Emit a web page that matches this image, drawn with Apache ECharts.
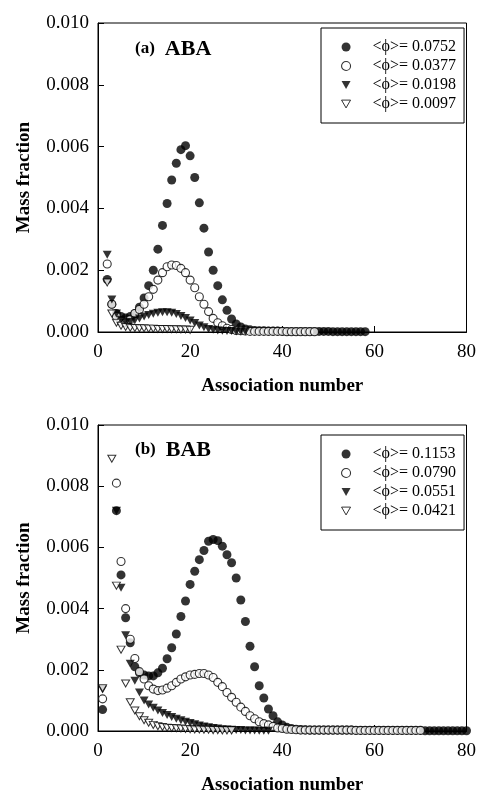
<!DOCTYPE html>
<html>
<head>
<meta charset="utf-8">
<script src="https://cdn.jsdelivr.net/npm/echarts@6/dist/echarts.min.js"></script>
<style>html,body{margin:0;padding:0;background:#fff;}#c{width:479px;height:796px;}</style>
</head>
<body>
<div id="c"></div>
<script>
// ---- Data (association number starts at given value, consecutive integers; null = not shown) ----
const xTicks = [0, 20, 40, 60, 80];
const yTicks = [0, 0.002, 0.004, 0.006, 0.008, 0.010];

const abaNames = ['<ϕ>= 0.0752', '<ϕ>= 0.0377', '<ϕ>= 0.0198', '<ϕ>= 0.0097'];
const babNames = ['<ϕ>= 0.1153', '<ϕ>= 0.0790', '<ϕ>= 0.0551', '<ϕ>= 0.0421'];

const abaStart = 2;
const aba1 = [0.0017,0.0009,0.0006,0.0005,0.00045,0.0005,0.0006,0.0008,0.0011,0.0015,
  0.0020,0.00268,0.00345,0.00416,0.00492,0.00546,0.0059,0.00603,0.0057,0.0050,
  0.00418,0.00336,0.00259,0.0020,0.0015,0.00104,0.0007,0.00042,0.00026,0.00016,
  0.0001,0.00007,0.00005,0.00004,0.00004,0.00003,0.00003,0.00003,0.00002,
  0.00002,0.00002,0.00002,0.00002,0.00002,0.00002,0.00002,0.00002,0.00002,0.00002,
  0.00001,0.00001,0.00001,0.00001,0.00001,0.00001,0.00001,0.00001];
const aba2 = [0.0022,0.0009,0.0005,0.00035,0.0003,0.0004,0.0006,0.00073,0.0009,0.00114,
  0.00138,0.00168,0.00192,0.00211,0.00217,0.00215,0.00206,0.00192,0.00168,0.00143,
  0.00114,0.0009,0.00066,0.00044,0.0003,0.0002,0.00012,0.00008,0.00005,0.00004,0.00003,
  0.00002,0.00002,0.00002,0.00002,0.00002,0.00002,0.00002,0.00002,
  0.00001,0.00001,0.00001,0.00001,0.00001,0.00001,0.00001];
const aba3 = [0.0025,0.00105,0.0006,0.0004,0.0003,0.00032,0.00038,0.00044,0.0005,0.00055,
  0.00059,0.00062,0.00064,0.00064,0.00062,0.00058,0.00052,0.00045,0.00037,0.00029,
  0.00021,0.00015,0.0001,0.00007,0.00005,0.00004,0.00003,0.00003,0.00002,0.00002,0.00002];
const aba4 = [0.0016,0.0006,0.0003,0.0002,0.00016,0.00014,0.00013,0.00012,0.00012,0.00011,
  0.00011,0.0001,0.0001,0.0001,0.00009,0.00009,0.00008,0.00008,0.00007];

const babStart = 1;
const bab1 = [0.0007,null,null,0.0072,0.0051,0.0037,0.00288,0.0021,0.0019,0.00183,
  0.0018,0.0018,0.0019,0.00205,0.00236,0.00272,0.00317,0.00374,0.00425,0.00479,
  0.00522,0.0056,0.0059,0.0062,0.00626,0.00622,0.00604,0.00576,0.0055,0.005,
  0.00428,0.00358,0.00277,0.0021,0.00148,0.00108,0.00072,0.0005,0.0003,0.0002,
  0.00012,0.00008,0.00006,0.00005,0.00004,
  0.00003,0.00003,0.00003,0.00003,0.00003,0.00003,0.00003,0.00003,0.00003,0.00003,
  0.00002,0.00002,0.00002,0.00002,0.00002,0.00002,0.00002,0.00002,0.00002,0.00002,
  0.00002,0.00002,0.00002,0.00002,0.00002,
  0.00001,0.00001,0.00001,0.00001,0.00001,0.00001,0.00001,0.00001,0.00001,0.00001];
const bab2 = [0.00105,null,null,0.0081,0.00554,0.004,0.003,0.00237,0.00194,0.0017,
  0.00148,0.00137,0.00132,0.00134,0.0014,0.00148,0.00159,0.0017,0.00177,0.00183,
  0.00185,0.00188,0.00188,0.00183,0.00175,0.00159,0.00145,0.00126,0.0011,0.00094,
  0.00078,0.00064,0.0005,0.0004,0.0003,0.00024,0.0002,0.00015,0.0001,0.00008,
  0.00006,0.00005,0.00004,
  0.00003,0.00003,0.00003,0.00003,0.00003,0.00003,0.00003,0.00003,0.00003,0.00003,0.00003,0.00003,
  0.00002,0.00002,0.00002,0.00002,0.00002,0.00002,0.00002,0.00002,0.00002,0.00002,
  0.00002,0.00002,0.00002,0.00002,0.00002];
const bab3 = [0.00136,null,null,0.0072,0.00468,0.00313,0.0022,0.00164,0.00126,0.001,
  0.00087,0.00076,0.00067,0.00059,0.00052,0.00046,0.0004,0.00035,0.0003,0.00026,
  0.00022,0.00018,0.00015,0.00012,0.0001,0.00008,0.00006,0.00005,0.00004,0.00003,
  0.00003,0.00002,0.00002,0.00002,0.00001,0.00001,0.00001];
const bab4 = [0.0014,null,0.0089,0.00475,0.00266,0.00155,0.00094,0.00067,0.00048,0.00035,
  0.00027,0.0002,0.00016,0.00013,0.00011,0.0001,0.00009,0.00008,0.00007,0.00006,
  0.00005,0.00005,0.00004,0.00004,0.00003,0.00003,0.00002,0.00002,0.00002];

// ---- Build ----
const FONT = 'Liberation Serif';
function pairs(start, vals) {
  const out = [];
  vals.forEach((v, i) => { if (v !== null) out.push([start + i, v]); });
  return out;
}
const DOWN_TRI = 'path://M0,0L20,0L10,17.3Z';
const symStyles = [
  { symbol: 'circle', itemStyle: { color: '#000', borderColor: '#000', borderWidth: 0 }, size: 9 },
  { symbol: 'circle', itemStyle: { color: '#fff', borderColor: '#000', borderWidth: 1.1 }, size: 8 },
  { symbol: DOWN_TRI, itemStyle: { color: '#000', borderColor: '#000', borderWidth: 0 }, size: [9, 8] },
  { symbol: DOWN_TRI, itemStyle: { color: '#fff', borderColor: '#000', borderWidth: 1 }, size: [8, 7] }
];
function mkSeries(names, datas, gi) {
  return datas.map((d, k) => ({
    type: 'scatter', name: names[k], xAxisIndex: gi, yAxisIndex: gi,
    data: d, symbol: symStyles[k].symbol,
    symbolSize: symStyles[k].size, itemStyle: symStyles[k].itemStyle,
    emphasis: { disabled: true }, animation: false
  }));
}
const grids = [
  { left: 98, top: 23, width: 369, height: 309 },
  { left: 98, top: 425, width: 369, height: 308 }
];
function xAx(gi) {
  return {
    gridIndex: gi, type: 'value', min: xTicks[0], max: xTicks[xTicks.length - 1], interval: 20,
    name: 'Association number', nameLocation: 'middle', nameGap: 45,
    nameTextStyle: { fontFamily: FONT, fontWeight: 'bold', fontSize: 19, color: '#000' },
    axisLine: { show: true, onZero: false, lineStyle: { color: '#000', width: 1 } },
    axisTick: { show: true, inside: true, length: 6, lineStyle: { color: '#000' } },
    axisLabel: { fontFamily: FONT, fontSize: 19, color: '#000', margin: 11 },
    splitLine: { show: false }
  };
}
function yAx(gi) {
  return {
    gridIndex: gi, type: 'value', min: yTicks[0], max: yTicks[yTicks.length - 1], interval: 0.002,
    name: 'Mass fraction', nameLocation: 'middle', nameGap: 64, nameRotate: 90,
    nameTextStyle: { fontFamily: FONT, fontWeight: 'bold', fontSize: 19, color: '#000' },
    axisLine: { show: true, lineStyle: { color: '#000', width: 1 } },
    axisTick: { show: true, inside: true, length: 6, lineStyle: { color: '#000' } },
    axisLabel: { fontFamily: FONT, fontSize: 19, color: '#000', margin: 9, formatter: v => v.toFixed(3) },
    splitLine: { show: false }
  };
}
function legend(names, top) {
  return {
    show: true, orient: 'vertical', left: 321, top: top,
    data: names.map((n, k) => ({ name: n, icon: symStyles[k].symbol, itemStyle: symStyles[k].itemStyle })),
    itemWidth: 9, itemHeight: 9, itemGap: 3,
    padding: [11, 8, 11, 20],
    borderColor: '#000', borderWidth: 1, backgroundColor: '#fff',
    selectedMode: false,
    textStyle: { fontFamily: FONT, fontSize: 16, color: '#000', lineHeight: 16, padding: [0, 0, 0, 17] }
  };
}
const option = {
  backgroundColor: '#fff',
  animation: false,
  grid: grids.map(g => Object.assign({ show: true, borderColor: '#000', borderWidth: 1, backgroundColor: 'transparent' }, g)),
  xAxis: [xAx(0), xAx(1)],
  yAxis: [yAx(0), yAx(1)],
  title: [
    { text: '{a|(a)}  {b|ABA}', left: 130, top: 33,
      textStyle: { rich: { a: { fontFamily: FONT, fontWeight: 'bold', fontSize: 17, color: '#000' },
                           b: { fontFamily: FONT, fontWeight: 'bold', fontSize: 22, color: '#000' } } } },
    { text: '{a|(b)}  {b|BAB}', left: 130, top: 434,
      textStyle: { rich: { a: { fontFamily: FONT, fontWeight: 'bold', fontSize: 17, color: '#000' },
                           b: { fontFamily: FONT, fontWeight: 'bold', fontSize: 22, color: '#000' } } } }
  ],
  legend: [legend(abaNames, 28), legend(babNames, 435)],
  series: mkSeries(abaNames, [pairs(abaStart, aba1), pairs(abaStart, aba2), pairs(abaStart, aba3), pairs(abaStart, aba4)], 0)
    .concat(mkSeries(babNames, [pairs(babStart, bab1), pairs(babStart, bab2), pairs(babStart, bab3), pairs(babStart, bab4)], 1))
};
const chart = echarts.init(document.getElementById('c'), null, { renderer: 'canvas' });
chart.setOption(option);
</script>
</body>
</html>
